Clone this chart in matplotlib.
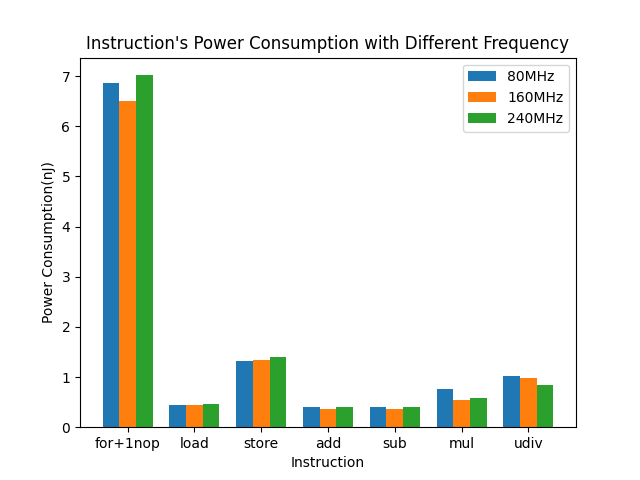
import numpy as np
import matplotlib
matplotlib.use("Agg")
import matplotlib.pyplot as plt

# data
instructions = ["for+1nop", "load", "store", "add", "sub", "mul", "udiv"]
p80 = [6.86, 0.44, 1.32, 0.40, 0.40, 0.76, 1.02]
p160 = [6.50, 0.44, 1.34, 0.36, 0.36, 0.54, 0.98]
p240 = [7.02, 0.46, 1.40, 0.40, 0.40, 0.58, 0.84]

x = np.arange(len(instructions))
width = 0.25

fig, ax = plt.subplots(figsize=(6.4, 4.8), dpi=100)
ax.bar(x - width, p80, width, label="80MHz")
ax.bar(x, p160, width, label="160MHz")
ax.bar(x + width, p240, width, label="240MHz")

ax.set_xticks(x)
ax.set_xticklabels(instructions)
ax.set_xlabel("Instruction")
ax.set_ylabel("Power Consumption(nJ)")
ax.set_title("Instruction's Power Consumption with Different Frequency")
ax.legend()

plt.savefig("out.png")
